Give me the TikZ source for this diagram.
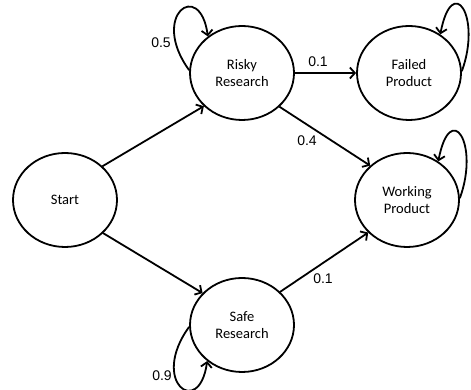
\documentclass[tikz,border=0pt]{standalone}
\usepackage{fontspec}
\setmainfont{Carlito}
\newfontfamily\labelfont{Liberation Sans}
\usetikzlibrary{arrows.meta,shapes.geometric}
\begin{document}
\begin{tikzpicture}[x=1pt,y=1pt,
  state/.style={ellipse,draw,line width=1.8pt,minimum width=104pt,minimum height=94pt,inner sep=0pt,
    align=center,font=\fontsize{14.5}{17.5}\selectfont},
  prob/.style={font=\labelfont\fontsize{14}{16}\selectfont,inner sep=0pt},
  edge/.style={line width=1.8pt,-{Straight Barb[length=5pt,width=11pt]}}]
\useasboundingbox (0,0) rectangle (471,390);
\node[state] (S) at (65,190) {Start};
\node[state] (R) at (242,317) {Risky\\Research};
\node[state] (F) at (409,317) {Failed\\Product};
\node[state] (W) at (407,190) {Working\\Product};
\node[state] (Sf) at (242,65) {Safe\\Research};
\draw[edge] (S.42) -- (R.221);
\draw[edge] (S.319) -- (Sf.141);
\draw[edge] (R.east) -- (F.west);
\draw[edge] (R.318) -- (W.137);
\draw[edge] (Sf.41) -- (W.220);
\draw[edge] (R.177) .. controls +(-40,55) and +(-8,58) .. (R.133);
\draw[edge] (F.2) .. controls +(20,55) and +(12,62) .. (F.51);
\draw[edge] (W.2) .. controls +(20,55) and +(12,62) .. (W.51);
\draw[edge] (Sf.182) .. controls +(-40,-55) and +(-8,-58) .. (Sf.226);
\node[prob] (p1) at (161,347) {0.5};
\node[prob] (p2) at (318,328) {0.1};
\node[prob] (p3) at (307,249) {0.4};
\node[prob] (p4) at (323,111) {0.1};
\node[prob] (p5) at (162,14) {0.9};
\end{tikzpicture}
\end{document}
